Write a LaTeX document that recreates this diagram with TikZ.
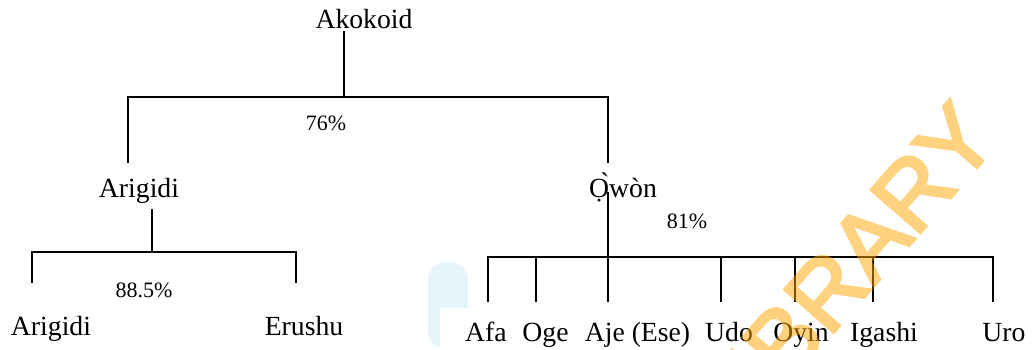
\documentclass[tikz,border=0pt]{standalone}
\usepackage{fontspec}
\setmainfont{Liberation Serif}
\newfontfamily\stampfont[FakeBold=3]{Liberation Sans}
\definecolor{stamp}{RGB}{255,165,0}
\definecolor{blobblue}{RGB}{200,232,248}
\begin{document}
\begin{tikzpicture}[x=1pt,y=-1pt,
  lang/.style={font=\fontsize{27.7}{30}\selectfont, inner sep=0pt, anchor=base},
  pct/.style={font=\fontsize{22}{24}\selectfont, inner sep=0pt, anchor=base},
  branch/.style={line width=1.8pt, line cap=rect},
  stampnode/.style={font=\stampfont\fontsize{95}{100}\selectfont, text=stamp,
    inner sep=0pt, anchor=base west, rotate=49}]
\useasboundingbox (0,0) rectangle (1032,349);

% faint logo behind the lower row, partly covered by a white panel
\fill[blobblue, fill opacity=0.45, rounded corners=18pt] (428,262) rectangle (468,349);
\fill[white] (440,308) rectangle (1032,349);

% labels
\node[lang] (akokoid) at (364,28) {Akokoid};
\node[pct]  (p76)     at (326,130) {76\%};
\node[lang] (arigidiG) at (139,197) {Arigidi};
\node[lang] (owon)    at (623,197) {Ọ̀wòn};
\node[pct]  (p81)     at (687,228) {81\%};
\node[pct]  (p885)    at (144,297) {88.5\%};
\node[lang] (arigidi) at (51,335) {Arigidi};
\node[lang] (erushu)  at (304,335) {Erushu};
\node[lang] (afa)     at (486,341) {Afa};
\node[lang] (oge)     at (545.5,341) {Oge};
\node[lang] (aje)     at (637.5,341) {Aje (Ese)};
\node[lang] (udo)     at (729,341) {Udo};
\node[lang] (oyin)    at (801,341) {Oyin};
\node[lang] (igashi)  at (884,341) {Igashi};
\node[lang] (uro)     at (1004,341) {Uro};

% junctions and branch ends
\coordinate (rootJ) at (344,97);
\coordinate (rootL) at (128,97);
\coordinate (rootR) at (608,97);
\coordinate (ariJ)  at (152,252);
\coordinate (ariL)  at (32,252);
\coordinate (ariR)  at (296,252);
\coordinate (owJ)   at (608,257);
\coordinate (owL)   at (488,257);
\coordinate (owR)   at (993,257);

% Akokoid split
\draw[branch] ([yshift=-4pt]akokoid.base -| rootJ) -- (rootJ);
\draw[branch] ([yshift=-65pt]rootL) -- (rootL) -- (rootR) -- ([yshift=-65pt]rootR);

% Arigidi split
\draw[branch] ([yshift=-13pt]arigidiG.base -| ariJ) -- (ariJ);
\draw[branch] ([yshift=-30pt]ariL) -- (ariL) -- (ariR) -- ([yshift=-30pt]ariR);

% Owon split
\draw[branch] ([yshift=4pt]owon.base -| owJ) -- ([yshift=-44pt]owJ);
\draw[branch] (owL) -- (owR);
\foreach \x in {488,536,721,795,873,993}
  \draw[branch] (\x,257) -- (\x,301);

% stamp across the right half, see-through as one flat layer
\begin{scope}[transparency group, opacity=0.5]
\clip (0,0) rectangle (1032,349);
\node[stampnode] (stampword) at (735,446) {LIBRARY};
\end{scope}
\end{tikzpicture}
\end{document}
